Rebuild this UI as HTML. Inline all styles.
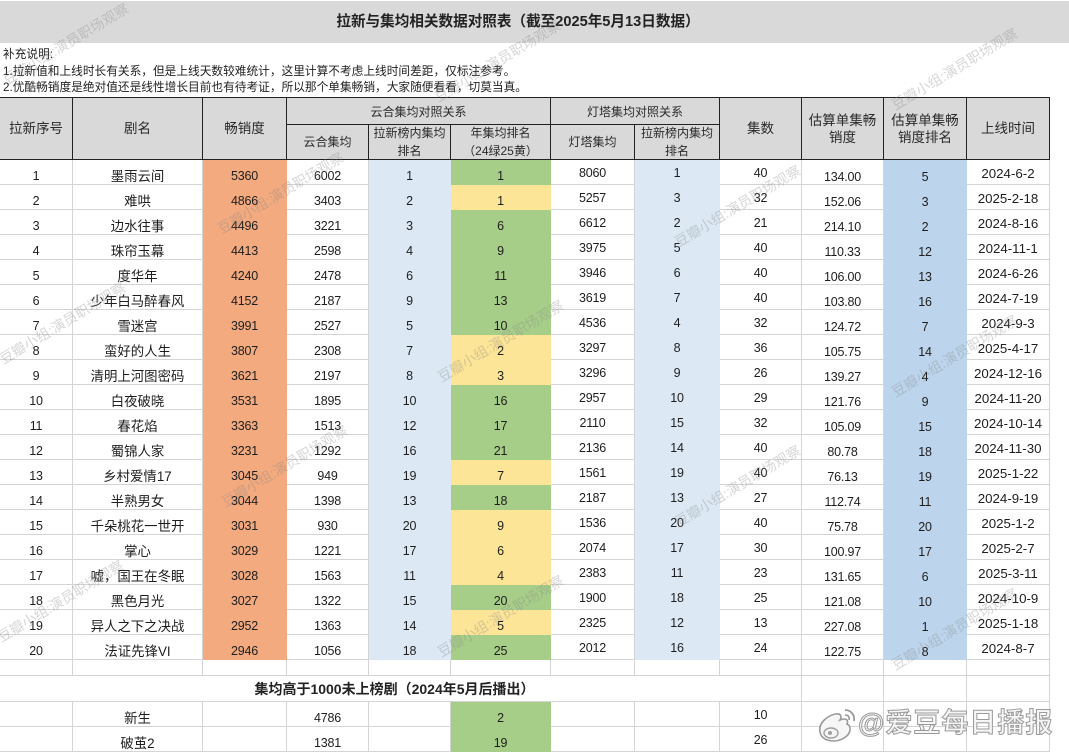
<!DOCTYPE html>
<html><head><meta charset="utf-8">
<style>
*{margin:0;padding:0}
html,body{width:1069px;height:752px;overflow:hidden;background:#fff}
body{font-family:"Liberation Sans","Noto Sans CJK SC",sans-serif;color:#1e1e1e}
#wrap{position:relative;width:1069px;height:752px;overflow:hidden}
#title{position:absolute;left:0;top:1px;width:1069px;height:42px;background:#d9d9d9}
#title span{position:absolute;left:0;width:1036px;text-align:center;line-height:42px;font-size:14.6px;font-weight:bold;color:#222}
#notes{position:absolute;left:3px;top:47px;font-size:11.7px;line-height:16.5px;color:#222;white-space:nowrap}
#hd{position:absolute;left:0;top:97px;width:1050px;height:63px;background:#d9d9d9;border-top:1px solid #222;box-sizing:border-box}
#hd div{position:absolute;box-sizing:border-box;border-right:1px solid #222;border-bottom:1px solid #222;display:flex;align-items:center;justify-content:center;text-align:center;color:#2a2a2a;line-height:17px}
.mh{top:0;height:62px;font-size:13.5px}
.gh{top:0;height:27px;font-size:12px;padding-top:3px}
.sh{top:27px;height:35px;font-size:12px;line-height:18px!important}
.r{position:absolute;left:0;height:25px;display:flex}
.r>div{box-sizing:border-box;flex:none;height:100%;border-right:1px solid #d4d4d4;border-bottom:1px solid #d4d4d4;text-align:center;line-height:25px;padding-top:4px;font-size:12.5px;white-space:nowrap;letter-spacing:-0.2px}
.r>div:nth-child(1){width:73px}
.r>div:nth-child(2){width:130px;font-size:13.4px;letter-spacing:0}
.r>div:nth-child(3){width:84px}
.r>div:nth-child(4){width:82px}
.r>div:nth-child(5){width:82px}
.r>div:nth-child(6){width:100px}
.r>div:nth-child(7){width:84px;padding-top:1px}
.r>div:nth-child(8){width:85px;padding-top:1px}
.r>div:nth-child(9){width:82px;padding-top:1px}
.r>div:nth-child(10){width:82px;padding-top:4.5px}
.r>div:nth-child(11){width:83px;padding-top:4.5px}
.r>div:nth-child(12){width:83px;padding-top:1px;font-size:13.3px;letter-spacing:0}
.r>div.o{background:#f3aa7f;border-color:#f3aa7f}
.r>div.b{background:#dce9f4;border-color:#dce9f4}
.r>div.g{background:#a7ce89;border-color:#a7ce89}
.r>div.y{background:#fde597;border-color:#fde597}
.r>div.m{background:#bcd5ec;border-color:#bcd5ec}
.r.blank{height:16px}
.r.blank>div{padding:0}
.r.mg{height:26px}
.r.mg>div.big{width:802px!important;font-size:14px;font-weight:bold;letter-spacing:0;padding-top:0;line-height:26px;color:#222;padding-right:12px}
.wm{position:absolute;font-size:14px;color:rgba(130,130,130,0.33);white-space:nowrap;transform-origin:0 100%;transform:rotate(-31deg);line-height:16px;font-family:"Liberation Sans","Noto Sans CJK SC",sans-serif}
#wb{position:absolute;left:858px;top:705px;font-size:27px;font-weight:bold;color:#f6f6f6;-webkit-text-stroke:1px #9a9a9a;white-space:nowrap;line-height:36px;letter-spacing:1px}
</style></head><body>
<div id="wrap">

<div id="title"><span>拉新与集均相关数据对照表（截至2025年5月13日数据）</span></div>
<div id="notes">补充说明:<br>1.拉新值和上线时长有关系，但是上线天数较难统计，这里计算不考虑上线时间差距，仅标注参考。<br>2.优酷畅销度是绝对值还是线性增长目前也有待考证，所以那个单集畅销，大家随便看看，切莫当真。</div>

<div id="hd">
<div class="mh" style="left:0;width:73px">拉新序号</div>
<div class="mh" style="left:73px;width:130px">剧名</div>
<div class="mh" style="left:203px;width:84px">畅销度</div>
<div class="gh" style="left:287px;width:264px">云合集均对照关系</div>
<div class="sh" style="left:287px;width:82px">云合集均</div>
<div class="sh" style="left:369px;width:82px">拉新榜内集均<br>排名</div>
<div class="sh" style="left:451px;width:100px">年集均排名<br>（24绿25黄）</div>
<div class="gh" style="left:551px;width:169px">灯塔集均对照关系</div>
<div class="sh" style="left:551px;width:84px">灯塔集均</div>
<div class="sh" style="left:635px;width:85px">拉新榜内集均<br>排名</div>
<div class="mh" style="left:720px;width:82px">集数</div>
<div class="mh" style="left:802px;width:82px">估算单集畅<br>销度</div>
<div class="mh" style="left:884px;width:83px">估算单集畅<br>销度排名</div>
<div class="mh" style="left:967px;width:83px">上线时间</div>
</div>

<div class="r" style="top:160px"><div>1</div><div>墨雨云间</div><div class="o">5360</div><div>6002</div><div class="b">1</div><div class="g">1</div><div>8060</div><div class="b">1</div><div>40</div><div>134.00</div><div class="m">5</div><div>2024-6-2</div></div>
<div class="r" style="top:185px"><div>2</div><div>难哄</div><div class="o">4866</div><div>3403</div><div class="b">2</div><div class="y">1</div><div>5257</div><div class="b">3</div><div>32</div><div>152.06</div><div class="m">3</div><div>2025-2-18</div></div>
<div class="r" style="top:210px"><div>3</div><div>边水往事</div><div class="o">4496</div><div>3221</div><div class="b">3</div><div class="g">6</div><div>6612</div><div class="b">2</div><div>21</div><div>214.10</div><div class="m">2</div><div>2024-8-16</div></div>
<div class="r" style="top:235px"><div>4</div><div>珠帘玉幕</div><div class="o">4413</div><div>2598</div><div class="b">4</div><div class="g">9</div><div>3975</div><div class="b">5</div><div>40</div><div>110.33</div><div class="m">12</div><div>2024-11-1</div></div>
<div class="r" style="top:260px"><div>5</div><div>度华年</div><div class="o">4240</div><div>2478</div><div class="b">6</div><div class="g">11</div><div>3946</div><div class="b">6</div><div>40</div><div>106.00</div><div class="m">13</div><div>2024-6-26</div></div>
<div class="r" style="top:285px"><div>6</div><div>少年白马醉春风</div><div class="o">4152</div><div>2187</div><div class="b">9</div><div class="g">13</div><div>3619</div><div class="b">7</div><div>40</div><div>103.80</div><div class="m">16</div><div>2024-7-19</div></div>
<div class="r" style="top:310px"><div>7</div><div>雪迷宫</div><div class="o">3991</div><div>2527</div><div class="b">5</div><div class="g">10</div><div>4536</div><div class="b">4</div><div>32</div><div>124.72</div><div class="m">7</div><div>2024-9-3</div></div>
<div class="r" style="top:335px"><div>8</div><div>蛮好的人生</div><div class="o">3807</div><div>2308</div><div class="b">7</div><div class="y">2</div><div>3297</div><div class="b">8</div><div>36</div><div>105.75</div><div class="m">14</div><div>2025-4-17</div></div>
<div class="r" style="top:360px"><div>9</div><div>清明上河图密码</div><div class="o">3621</div><div>2197</div><div class="b">8</div><div class="y">3</div><div>3296</div><div class="b">9</div><div>26</div><div>139.27</div><div class="m">4</div><div>2024-12-16</div></div>
<div class="r" style="top:385px"><div>10</div><div>白夜破晓</div><div class="o">3531</div><div>1895</div><div class="b">10</div><div class="g">16</div><div>2957</div><div class="b">10</div><div>29</div><div>121.76</div><div class="m">9</div><div>2024-11-20</div></div>
<div class="r" style="top:410px"><div>11</div><div>春花焰</div><div class="o">3363</div><div>1513</div><div class="b">12</div><div class="g">17</div><div>2110</div><div class="b">15</div><div>32</div><div>105.09</div><div class="m">15</div><div>2024-10-14</div></div>
<div class="r" style="top:435px"><div>12</div><div>蜀锦人家</div><div class="o">3231</div><div>1292</div><div class="b">16</div><div class="g">21</div><div>2136</div><div class="b">14</div><div>40</div><div>80.78</div><div class="m">18</div><div>2024-11-30</div></div>
<div class="r" style="top:460px"><div>13</div><div>乡村爱情17</div><div class="o">3045</div><div>949</div><div class="b">19</div><div class="y">7</div><div>1561</div><div class="b">19</div><div>40</div><div>76.13</div><div class="m">19</div><div>2025-1-22</div></div>
<div class="r" style="top:485px"><div>14</div><div>半熟男女</div><div class="o">3044</div><div>1398</div><div class="b">13</div><div class="g">18</div><div>2187</div><div class="b">13</div><div>27</div><div>112.74</div><div class="m">11</div><div>2024-9-19</div></div>
<div class="r" style="top:510px"><div>15</div><div>千朵桃花一世开</div><div class="o">3031</div><div>930</div><div class="b">20</div><div class="y">9</div><div>1536</div><div class="b">20</div><div>40</div><div>75.78</div><div class="m">20</div><div>2025-1-2</div></div>
<div class="r" style="top:535px"><div>16</div><div>掌心</div><div class="o">3029</div><div>1221</div><div class="b">17</div><div class="y">6</div><div>2074</div><div class="b">17</div><div>30</div><div>100.97</div><div class="m">17</div><div>2025-2-7</div></div>
<div class="r" style="top:560px"><div>17</div><div>嘘，国王在冬眠</div><div class="o">3028</div><div>1563</div><div class="b">11</div><div class="y">4</div><div>2383</div><div class="b">11</div><div>23</div><div>131.65</div><div class="m">6</div><div>2025-3-11</div></div>
<div class="r" style="top:585px"><div>18</div><div>黑色月光</div><div class="o">3027</div><div>1322</div><div class="b">15</div><div class="g">20</div><div>1900</div><div class="b">18</div><div>25</div><div>121.08</div><div class="m">10</div><div>2024-10-9</div></div>
<div class="r" style="top:610px"><div>19</div><div>异人之下之决战</div><div class="o">2952</div><div>1363</div><div class="b">14</div><div class="y">5</div><div>2325</div><div class="b">12</div><div>13</div><div>227.08</div><div class="m">1</div><div>2025-1-18</div></div>
<div class="r" style="top:635px"><div>20</div><div>法证先锋VI</div><div class="o">2946</div><div>1056</div><div class="b">18</div><div class="g">25</div><div>2012</div><div class="b">16</div><div>24</div><div>122.75</div><div class="m">8</div><div>2024-8-7</div></div>

<div class="r blank" style="top:660px"><div></div><div></div><div></div><div></div><div></div><div></div><div></div><div></div><div></div><div></div><div></div><div></div></div>
<div class="r mg" style="top:676px"><div class="big">集均高于1000未上榜剧（2024年5月后播出）</div><div style="width:82px"></div><div style="width:83px"></div><div style="width:83px"></div></div>
<div class="r" style="top:702px"><div></div><div>新生</div><div></div><div>4786</div><div></div><div class="g">2</div><div></div><div></div><div>10</div><div></div><div></div><div></div></div>
<div class="r" style="top:727px"><div></div><div>破茧2</div><div></div><div>1381</div><div></div><div class="g">19</div><div></div><div></div><div>26</div><div></div><div></div><div></div></div>

<span class="wm" style="left:8px;top:72px">豆瓣小组:演员职场观察</span>
<span class="wm" style="left:5px;top:351px">豆瓣小组:演员职场观察</span>
<span class="wm" style="left:3px;top:629px">豆瓣小组:演员职场观察</span>
<span class="wm" style="left:223px;top:221px">豆瓣小组:演员职场观察</span>
<span class="wm" style="left:227px;top:494px">豆瓣小组:演员职场观察</span>
<span class="wm" style="left:440px;top:89px">豆瓣小组:演员职场观察</span>
<span class="wm" style="left:443px;top:369px">豆瓣小组:演员职场观察</span>
<span class="wm" style="left:443px;top:644px">豆瓣小组:演员职场观察</span>
<span class="wm" style="left:680px;top:234px">豆瓣小组:演员职场观察</span>
<span class="wm" style="left:680px;top:514px">豆瓣小组:演员职场观察</span>
<span class="wm" style="left:897px;top:97px">豆瓣小组:演员职场观察</span>
<span class="wm" style="left:897px;top:384px">豆瓣小组:演员职场观察</span>
<span class="wm" style="left:897px;top:657px">豆瓣小组:演员职场观察</span>

<svg style="position:absolute;left:814px;top:706px" width="44" height="40" viewBox="0 0 44 40">
<path d="M6 26 C4 17 14 9 22 8 C27 7 28 11 26 14 C31 12 35 13 33 18 C38 20 37 28 30 32 C22 37 8 36 6 26 Z" fill="#f6f6f6" stroke="#9a9a9a" stroke-width="1.6"/>
<ellipse cx="17" cy="27" rx="7" ry="5" fill="none" stroke="#a0a0a0" stroke-width="1.4"/>
<circle cx="16" cy="27" r="2" fill="#a0a0a0"/>
<path d="M31 4 C37 4 41 9 40 15" fill="none" stroke="#9a9a9a" stroke-width="1.8"/>
<path d="M31 9 C34 9 36 11 35 14" fill="none" stroke="#9a9a9a" stroke-width="1.6"/>
</svg>
<div id="wb">@爱豆每日播报</div>

</div>
</body></html>
